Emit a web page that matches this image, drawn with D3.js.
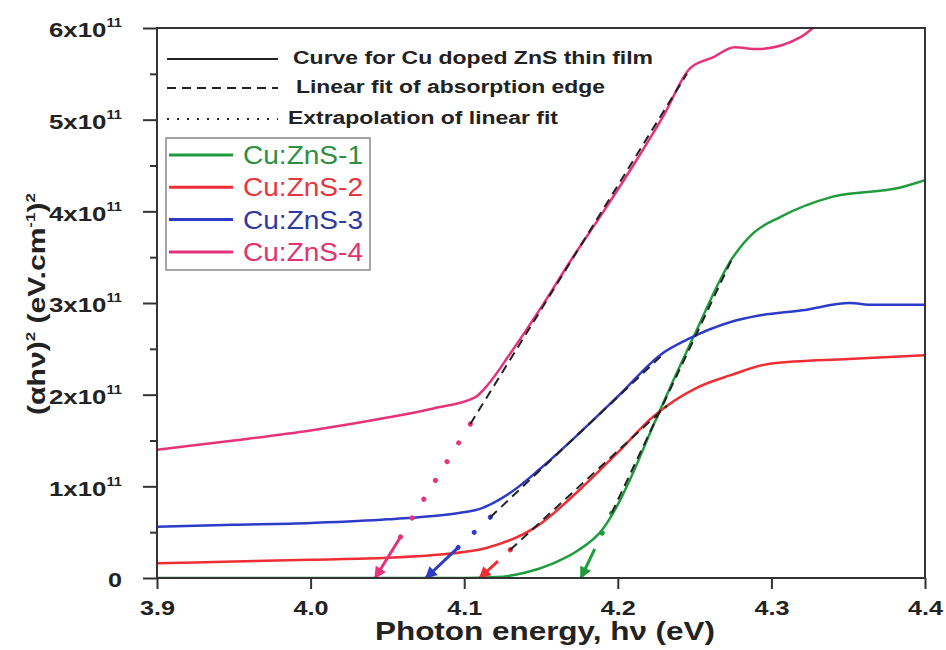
<!DOCTYPE html>
<meta charset="utf-8" />
<script src="https://d3js.org/d3.v7.min.js"></script>
<style>
  body { margin: 0; background: #fff; }
  text { font-family: "Liberation Sans", Arial, sans-serif; }
</style>
<body>
  <div id="my_dataviz"></div>
</body>
<script>
  // photon energy (eV) and (alpha h nu)^2 in units of 1e11 for each film
  var energy1 = [3.9, 4.0, 4.1, 4.121, 4.14, 4.158, 4.175, 4.19, 4.2, 4.21, 4.223, 4.249, 4.275, 4.288, 4.306, 4.34, 4.384, 4.4];
  var znS1 = [0, 0, 0, 0.01, 0.06, 0.16, 0.31, 0.53, 0.8, 1.15, 1.66, 2.62, 3.5, 3.76, 3.94, 4.16, 4.26, 4.34];

  var energy2 = [3.9, 3.95, 4.0, 4.05, 4.08, 4.115, 4.147, 4.175, 4.2, 4.223, 4.252, 4.273, 4.3, 4.35, 4.4];
  var znS2 = [0.16, 0.18, 0.2, 0.22, 0.25, 0.33, 0.56, 0.96, 1.37, 1.76, 2.08, 2.21, 2.34, 2.39, 2.43];

  var energy3 = [3.9, 3.95, 4.0, 4.05, 4.107, 4.13, 4.15, 4.175, 4.2, 4.229, 4.245, 4.273, 4.291, 4.32, 4.351, 4.366, 4.4];
  var znS3 = [0.56, 0.58, 0.6, 0.64, 0.74, 0.93, 1.2, 1.58, 1.98, 2.45, 2.6, 2.79, 2.86, 2.92, 3.0, 2.98, 2.98];

  var energy4 = [3.9, 3.95, 4.0, 4.05, 4.08, 4.107, 4.115, 4.13, 4.15, 4.17, 4.19, 4.21, 4.23, 4.247, 4.262, 4.276, 4.291, 4.319, 4.327];
  var znS4 = [1.4, 1.5, 1.61, 1.75, 1.85, 1.97, 2.1, 2.45, 2.95, 3.48, 3.98, 4.5, 5.05, 5.56, 5.68, 5.79, 5.77, 5.9, 6.0];

  var seriesNames = ["Cu:ZnS-1", "Cu:ZnS-2", "Cu:ZnS-3", "Cu:ZnS-4"];
  var seriesColors = ["#1f9c3c", "#ee2e34", "#2c3cc8", "#e6327a"];
  var legendColors = ["#2e8f40", "#e8363e", "#2f3a9e", "#e0336f"];

  // linear fit of the absorption edge: x-intercept (band gap), slope, dashed range, arrow start
  var fitIntercept = [4.176, 4.110, 4.075, 4.042];
  var fitSlope = [35.4, 15.4, 15.8, 27.1];
  var fitStart = [4.196, 4.13, 4.117, 4.104];
  var fitEnd = [4.275, 4.232, 4.229, 4.245];
  var arrowFrom = [4.185, 4.122, 4.096, 4.058];

  var xTicks = [3.9, 4.0, 4.1, 4.2, 4.3, 4.4];
  var yTicks = [0, 1, 2, 3, 4, 5, 6];
  var yMinor = [0.5, 1.5, 2.5, 3.5, 4.5, 5.5];

  var styleNames = ["Curve for Cu doped ZnS thin film", "Linear fit of absorption edge", "Extrapolation of linear fit"];

  var energies = [energy1, energy2, energy3, energy4];
  var values = [znS1, znS2, znS3, znS4];

  var width = 946, height = 650;
  var margin = { top: 28, right: 21, bottom: 72, left: 157 };

  var svg = d3
    .select("#my_dataviz")
    .append("svg")
    .attr("width", width)
    .attr("height", height);

  var x = d3.scaleLinear().domain([3.9, 4.4]).range([margin.left, width - margin.right]);
  var y = d3.scaleLinear().domain([0, 6]).range([height - margin.bottom, margin.top]);

  // markers for the arrows
  var defs = svg.append("defs");
  seriesColors.forEach(function (c, i) {
    defs.append("marker")
      .attr("id", "arrow" + i)
      .attr("viewBox", "0 0 10 10")
      .attr("refX", 9)
      .attr("refY", 5)
      .attr("markerWidth", 4.5)
      .attr("markerHeight", 4)
      .attr("markerUnits", "strokeWidth")
      .attr("orient", "auto")
      .append("path")
      .attr("d", "M0,0 L10,5 L0,10 z")
      .attr("fill", c);
  });

  var plot = svg.append("g");
  plot.append("clipPath").attr("id", "clip")
    .append("rect")
    .attr("x", x(3.9)).attr("y", y(6))
    .attr("width", x(4.4) - x(3.9)).attr("height", y(0) - y(6));

  var line = d3.line()
    .x(function (d) { return x(d[0]); })
    .y(function (d) { return y(d[1]); })
    .curve(d3.curveMonotoneX);

  // curves
  values.forEach(function (vals, i) {
    var pts = vals.map(function (v, k) { return [energies[i][k], v]; });
    plot.append("path")
      .datum(pts)
      .attr("clip-path", "url(#clip)")
      .attr("fill", "none")
      .attr("stroke", seriesColors[i])
      .attr("stroke-width", 2.5)
      .attr("d", line);
  });

  function fitVal(i, e) { return fitSlope[i] * (e - fitIntercept[i]); }

  // extrapolation (dots), arrows and linear fits (dashes)
  fitIntercept.forEach(function (x0, i) {
    plot.append("line")
      .attr("x1", x(fitStart[i])).attr("y1", y(fitVal(i, fitStart[i])))
      .attr("x2", x(arrowFrom[i])).attr("y2", y(fitVal(i, arrowFrom[i])))
      .attr("stroke", seriesColors[i])
      .attr("stroke-width", 5)
      .attr("stroke-linecap", "round")
      .attr("stroke-dasharray", "0.1,22");

    plot.append("line")
      .attr("x1", x(arrowFrom[i])).attr("y1", y(fitVal(i, arrowFrom[i])))
      .attr("x2", x(x0)).attr("y2", y(0))
      .attr("stroke", seriesColors[i])
      .attr("stroke-width", 3)
      .attr("marker-end", "url(#arrow" + i + ")");

    plot.append("line")
      .attr("x1", x(fitStart[i])).attr("y1", y(fitVal(i, fitStart[i])))
      .attr("x2", x(fitEnd[i])).attr("y2", y(fitVal(i, fitEnd[i])))
      .attr("stroke", "#222")
      .attr("stroke-width", 2)
      .attr("stroke-dasharray", "9,6");
  });

  // axes
  var font = "Liberation Sans, Arial, sans-serif";
  var yAxis = svg.append("g")
    .attr("transform", "translate(" + margin.left + ",0)")
    .call(d3.axisLeft(y).tickValues(yTicks).tickSize(14).tickPadding(21).tickFormat(function (d) { return d; }));
  yAxis.select(".domain").remove();
  yAxis.selectAll("line").attr("stroke", "#333").attr("stroke-width", 2);
  yAxis.selectAll("text")
    .attr("font-family", font)
    .attr("font-size", 21)
    .attr("font-weight", "bold")
    .attr("fill", "#222")
    .attr("dy", "0.42em")
    .each(function (d) {
      var t = d3.select(this);
      t.text(null);
      if (d === 0) {
        t.text("0").attr("textLength", 14).attr("lengthAdjust", "spacingAndGlyphs");
      } else {
        t.append("tspan").text(d + "x10");
        t.append("tspan").attr("dy", -10).attr("font-size", 12).text("11");
        t.attr("textLength", 73).attr("lengthAdjust", "spacingAndGlyphs");
      }
    });

  var yMinorAxis = svg.append("g")
    .attr("transform", "translate(" + margin.left + ",0)")
    .call(d3.axisLeft(y).tickValues(yMinor).tickSize(7).tickFormat(""));
  yMinorAxis.select(".domain").remove();
  yMinorAxis.selectAll("line").attr("stroke", "#333").attr("stroke-width", 2);

  var xAxis = svg.append("g")
    .attr("transform", "translate(0," + y(0) + ")")
    .call(d3.axisBottom(x).tickValues(xTicks).tickSize(11).tickPadding(11).tickFormat(d3.format(".1f")));
  xAxis.select(".domain").remove();
  xAxis.selectAll("line").attr("stroke", "#333").attr("stroke-width", 2);
  xAxis.selectAll("text")
    .attr("font-family", font)
    .attr("font-size", 21)
    .attr("font-weight", "bold")
    .attr("fill", "#222")
    .attr("textLength", 35)
    .attr("lengthAdjust", "spacingAndGlyphs");

  // frame
  svg.append("rect")
    .attr("x", x(3.9)).attr("y", y(6))
    .attr("width", x(4.4) - x(3.9)).attr("height", y(0) - y(6))
    .attr("fill", "none")
    .attr("stroke", "#333")
    .attr("stroke-width", 2);

  // axis titles
  svg.append("text")
    .attr("x", 545).attr("y", 640)
    .attr("text-anchor", "middle")
    .attr("font-size", 25)
    .attr("font-weight", "bold")
    .attr("fill", "#222")
    .attr("textLength", 340)
    .attr("lengthAdjust", "spacingAndGlyphs")
    .text("Photon energy, h\u03bd (eV)");

  var yTitle = svg.append("text")
    .attr("transform", "translate(45,304) rotate(-90)")
    .attr("text-anchor", "middle")
    .attr("font-size", 23)
    .attr("font-weight", "bold")
    .attr("fill", "#222")
    .attr("textLength", 222)
    .attr("lengthAdjust", "spacingAndGlyphs");
  yTitle.append("tspan").text("(\u03b1h\u03bd)");
  yTitle.append("tspan").attr("dy", -10).attr("font-size", 13).text("2");
  yTitle.append("tspan").attr("dy", 10).text(" (eV.cm");
  yTitle.append("tspan").attr("dy", -10).attr("font-size", 13).text("-1");
  yTitle.append("tspan").attr("dy", 10).text(")");
  yTitle.append("tspan").attr("dy", -10).attr("font-size", 13).text("2");

  // line-style legend
  var styleDash = [null, "9,6", "2,8"];
  var styleY = [59, 88, 119];
  var styleTextX = [293, 296, 288];
  var styleTextLen = [360, 309, 270];
  styleNames.forEach(function (name, i) {
    svg.append("line")
      .attr("x1", 167).attr("x2", 278)
      .attr("y1", styleY[i]).attr("y2", styleY[i])
      .attr("stroke", "#222")
      .attr("stroke-width", 2)
      .attr("stroke-dasharray", styleDash[i]);
    svg.append("text")
      .attr("x", styleTextX[i]).attr("y", styleY[i] + 5)
      .attr("font-size", 18)
      .attr("font-weight", "bold")
      .attr("fill", "#222")
      .attr("textLength", styleTextLen[i])
      .attr("lengthAdjust", "spacingAndGlyphs")
      .text(name);
  });

  // series legend
  var legend = svg.append("g");
  legend.append("rect")
    .attr("x", 166).attr("y", 138)
    .attr("width", 204).attr("height", 132)
    .attr("fill", "none")
    .attr("stroke", "#888")
    .attr("stroke-width", 1.5);
  seriesNames.forEach(function (name, i) {
    var ly = 155 + i * 32.3;
    legend.append("line")
      .attr("x1", 169).attr("x2", 233)
      .attr("y1", ly).attr("y2", ly)
      .attr("stroke", seriesColors[i])
      .attr("stroke-width", 3);
    legend.append("text")
      .attr("x", 243).attr("y", ly + 9)
      .attr("font-size", 25)
      .attr("fill", legendColors[i])
      .attr("textLength", 120)
      .attr("lengthAdjust", "spacingAndGlyphs")
      .text(name);
  });
</script>
